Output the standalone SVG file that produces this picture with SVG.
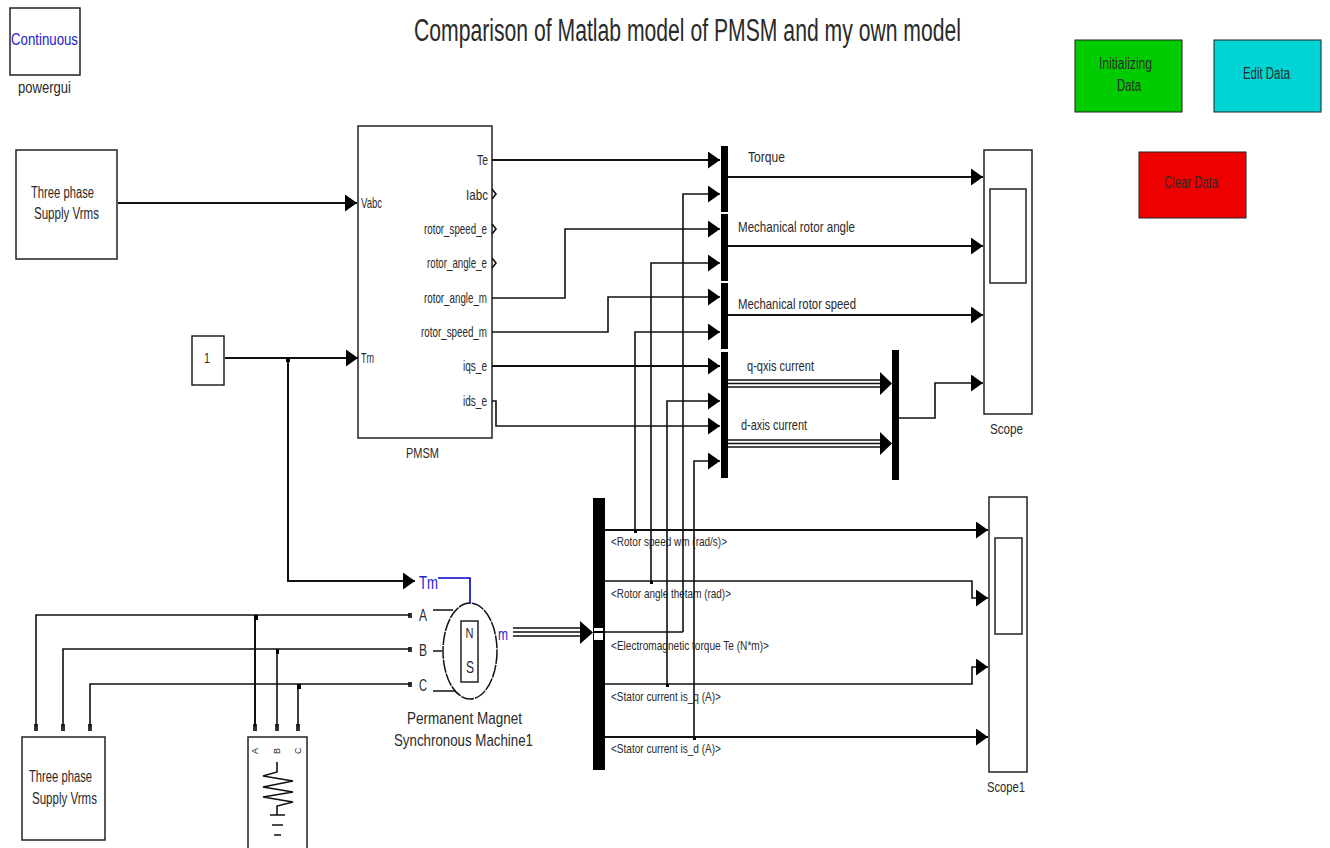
<svg xmlns="http://www.w3.org/2000/svg" width="1330" height="848" viewBox="0 0 1330 848">
<style>
text{font-family:"Liberation Sans",Arial,sans-serif;fill:#2a2a2a;font-size:16px}
.m{font-size:15px}
.s{font-size:13.500px}
.b{fill:#fff;stroke:#222;stroke-width:1.5}
.bar{fill:#000}
.w{fill:none;stroke:#111;stroke-width:2}
.t{fill:none;stroke:#111;stroke-width:1.6}
.a{marker-end:url(#ah)}
.p{fill:#333}
.blue{fill:#2222cc}
</style>
<defs>
<marker id="ah" markerUnits="userSpaceOnUse" markerWidth="14" markerHeight="18" refX="12" refY="8.500" orient="auto"><path d="M0 0L12 8.500L0 17Z" fill="#000"/></marker>
</defs>
<text id="title" x="414" y="41" textLength="547" lengthAdjust="spacingAndGlyphs" style="font-size:31px">Comparison of Matlab model of PMSM and my own model</text>
<g id="powergui"><rect class="b" x="10" y="8" width="70" height="67"/><text x="11" y="45" textLength="67" lengthAdjust="spacingAndGlyphs" class="blue">Continuous</text><text x="18" y="93" textLength="53" lengthAdjust="spacingAndGlyphs">powergui</text></g>
<g id="btn-init"><rect x="1075" y="40" width="107" height="72" fill="#00cc00" stroke="#222"/><text x="1099" y="69" textLength="53" lengthAdjust="spacingAndGlyphs">Initializing</text><text x="1117" y="91" textLength="24" lengthAdjust="spacingAndGlyphs">Data</text></g>
<g id="btn-edit"><rect x="1214" y="40" width="107" height="72" fill="#00d4d4" stroke="#222"/><text x="1243" y="79" textLength="47" lengthAdjust="spacingAndGlyphs">Edit Data</text></g>
<g id="btn-clear"><rect x="1139" y="152" width="107" height="66" fill="#ee0000" stroke="#222"/><text x="1164" y="188" textLength="54" lengthAdjust="spacingAndGlyphs">Clear Data</text></g>
<g id="supply1"><rect class="b" x="16" y="150" width="101" height="109"/><text x="31" y="198" textLength="63" lengthAdjust="spacingAndGlyphs">Three phase</text><text x="34" y="219" textLength="65" lengthAdjust="spacingAndGlyphs">Supply Vrms</text></g>
<g id="constant"><rect class="b" x="192" y="336" width="32" height="49"/><text x="204" y="363" class="m" textLength="6" lengthAdjust="spacingAndGlyphs">1</text></g>
<g id="pmsm"><rect class="b" x="358" y="126" width="134" height="312"/>
<text class="m" x="361" y="208" textLength="21" lengthAdjust="spacingAndGlyphs">Vabc</text>
<text class="m" x="361" y="363" textLength="13" lengthAdjust="spacingAndGlyphs">Tm</text>
<text class="m" x="477" y="165" textLength="11" lengthAdjust="spacingAndGlyphs">Te</text>
<text class="m" x="466" y="200" textLength="22" lengthAdjust="spacingAndGlyphs">Iabc</text>
<text class="m" x="424" y="234" textLength="63" lengthAdjust="spacingAndGlyphs">rotor_speed_e</text>
<text class="m" x="427" y="268" textLength="60" lengthAdjust="spacingAndGlyphs">rotor_angle_e</text>
<text class="m" x="424" y="303" textLength="63" lengthAdjust="spacingAndGlyphs">rotor_angle_m</text>
<text class="m" x="421" y="337" textLength="66" lengthAdjust="spacingAndGlyphs">rotor_speed_m</text>
<text class="m" x="463" y="371" textLength="24" lengthAdjust="spacingAndGlyphs">iqs_e</text>
<text class="m" x="463" y="406" textLength="24" lengthAdjust="spacingAndGlyphs">ids_e</text>
<path class="t" d="M492 189l4 5l-4 5M492 224l4 5l-4 5M492 258l4 5l-4 5" stroke-width="1.2"/>
<text x="406" y="458" textLength="33" lengthAdjust="spacingAndGlyphs" class="m">PMSM</text></g>
<g id="mux1"><rect class="bar" x="721" y="146" width="7" height="66"/></g>
<g id="mux2"><rect class="bar" x="721" y="214" width="7" height="67"/></g>
<g id="mux3"><rect class="bar" x="721" y="283" width="7" height="66"/></g>
<g id="mux4"><rect class="bar" x="721" y="352" width="7" height="126"/></g>
<g id="mux5"><rect class="bar" x="892" y="350" width="7" height="130"/></g>
<g id="demux"><rect class="bar" x="593" y="498" width="12" height="272"/><rect x="594" y="628" width="9" height="3" fill="#fff"/><rect x="594" y="633" width="9" height="7" fill="#fff"/></g>
<g id="scope"><rect class="b" x="984" y="150" width="48" height="264"/><rect class="b" x="990" y="189" width="36" height="94"/><text x="990" y="434" textLength="33" lengthAdjust="spacingAndGlyphs" class="m">Scope</text></g>
<g id="scope1"><rect class="b" x="989" y="497" width="38" height="275"/><rect class="b" x="995" y="538" width="27" height="96"/><text x="987" y="792" textLength="38" lengthAdjust="spacingAndGlyphs" class="m">Scope1</text></g>
<g id="machine">
<ellipse cx="470" cy="651" rx="27" ry="48" fill="#fff" stroke="#111" stroke-width="1.500" stroke-dasharray="13 1"/>
<rect class="b" x="461" y="621" width="17" height="61" style="fill:none"/>
<text x="469.500" y="638" text-anchor="middle" textLength="8" lengthAdjust="spacingAndGlyphs" style="font-size:15px">N</text>
<text x="470" y="673" text-anchor="middle" textLength="8" lengthAdjust="spacingAndGlyphs" style="font-size:17px">S</text>
<path class="t" d="M433 610H453M433 651H442M433 691H456"/>
<path d="M438 578H470V603" fill="none" stroke="#0000cc" stroke-width="1.600"/>
<text x="419" y="589" class="blue" textLength="19" lengthAdjust="spacingAndGlyphs" style="font-size:18px">Tm</text>
<text x="498" y="640" class="blue" textLength="10" lengthAdjust="spacingAndGlyphs" style="font-size:16px">m</text>
<text x="419" y="621" textLength="8" lengthAdjust="spacingAndGlyphs">A</text><text x="419" y="656" textLength="8" lengthAdjust="spacingAndGlyphs">B</text><text x="419" y="691" textLength="8" lengthAdjust="spacingAndGlyphs">C</text>
<rect class="p" x="408" y="613" width="4" height="5"/><rect class="p" x="408" y="647" width="4" height="5"/><rect class="p" x="408" y="682" width="4" height="5"/>
<text x="407" y="724" textLength="115" lengthAdjust="spacingAndGlyphs" style="font-size:17px">Permanent Magnet</text><text x="394" y="746" textLength="139" lengthAdjust="spacingAndGlyphs" style="font-size:17px">Synchronous Machine1</text></g>
<g id="supply2"><rect class="b" x="22" y="737" width="83" height="103"/><text x="29" y="782" textLength="63" lengthAdjust="spacingAndGlyphs">Three phase</text><text x="32" y="804" textLength="65" lengthAdjust="spacingAndGlyphs">Supply Vrms</text>
<rect class="p" x="34" y="724" width="4" height="7"/><rect class="p" x="61" y="724" width="4" height="7"/><rect class="p" x="88" y="724" width="4" height="7"/></g>
<g id="load"><rect class="b" x="248" y="737" width="59" height="120"/>
<text transform="translate(258 754) rotate(-90)" style="font-size:9px">A</text><text transform="translate(280 754) rotate(-90)" style="font-size:9px">B</text><text transform="translate(301 754) rotate(-90)" style="font-size:9px">C</text>
<path class="t" d="M277 762V772L263 776L293 781L263 787L293 792L263 797L293 802L277 806V815M270 815H285M272 825H283M274 835H281"/>
<rect class="p" x="253" y="724" width="4" height="7"/><rect class="p" x="275" y="724" width="4" height="7"/><rect class="p" x="296" y="724" width="4" height="7"/></g>
<g id="connectors">
<path class="w a" d="M118 203H357"/>
<path class="w a" d="M225 358H358"/>
<path class="w a" d="M288 358V581H415"/>
<path class="w a" d="M492 160H720"/>
<path class="t a" d="M492 298H565V229H720"/>
<path class="t a" d="M492 332H608V297H720"/>
<path class="w a" d="M492 366H720"/>
<path class="t a" d="M492 401H496V426H720"/>
<path class="t a" d="M683 632V194H720"/>
<path class="t a" d="M651 581V263H720"/>
<path class="t a" d="M635 530V332H720"/>
<path class="t a" d="M667 684V401H720"/>
<path class="t a" d="M694 737V461H720"/>
<path class="w a" d="M728 177H983"/>
<path class="w a" d="M728 246H983"/>
<path class="w a" d="M728 315H983"/>
<path class="t" d="M728 380H880M728 383.500H880M728 387H880M728 440H880M728 443.500H880M728 447H880"/>
<path class="bar" d="M880 372L892 383.500L880 395ZM880 432L892 443.500L880 455Z"/>
<path class="t a" d="M899 418H935V383H983"/>
<path class="w a" d="M605 530H988"/>
<path class="t a" d="M605 581H972V598H988"/>
<path class="t" d="M605 632H683"/>
<path class="t a" d="M605 684H972V667H988"/>
<path class="w a" d="M605 737H988"/>
<path class="t" d="M513 628H580M513 632H580M513 636H580"/>
<path class="bar" d="M580 621L593 632.500L580 644Z"/>
<path class="t" d="M36 727V615H410M63 727V649H410M90 727V684H410"/>
<path class="w" d="M255 727V615"/>
<path class="t" d="M277 727V649M298 727V684"/>
<rect class="bar" x="286" y="358" width="4" height="4"/><rect class="bar" x="254" y="615" width="4" height="5"/><rect class="bar" x="276" y="649" width="3" height="5"/><rect class="bar" x="297" y="684" width="4" height="5"/>
<g class="bar"><rect x="634" y="530" width="3" height="3"/><rect x="650" y="581" width="3" height="3"/><rect x="666" y="684" width="3" height="3"/><rect x="693" y="737" width="3" height="3"/></g>
</g>
<g id="labels">
<text class="m" x="748" y="162" textLength="37" lengthAdjust="spacingAndGlyphs">Torque</text>
<text class="m" x="738" y="232" textLength="117" lengthAdjust="spacingAndGlyphs">Mechanical rotor angle</text>
<text class="m" x="738" y="309" textLength="118" lengthAdjust="spacingAndGlyphs">Mechanical rotor speed</text>
<text class="m" x="747" y="371" textLength="67" lengthAdjust="spacingAndGlyphs">q-qxis current</text>
<text class="m" x="741" y="430" textLength="66" lengthAdjust="spacingAndGlyphs">d-axis current</text>
<text class="s" x="611" y="546" textLength="116" lengthAdjust="spacingAndGlyphs">&lt;Rotor speed wm (rad/s)&gt;</text>
<text class="s" x="611" y="598" textLength="120" lengthAdjust="spacingAndGlyphs">&lt;Rotor angle thetam (rad)&gt;</text>
<text class="s" x="611" y="650" textLength="158" lengthAdjust="spacingAndGlyphs">&lt;Electromagnetic torque Te (N*m)&gt;</text>
<text class="s" x="611" y="701" textLength="110" lengthAdjust="spacingAndGlyphs">&lt;Stator current is_q (A)&gt;</text>
<text class="s" x="611" y="753" textLength="110" lengthAdjust="spacingAndGlyphs">&lt;Stator current is_d (A)&gt;</text>
</g>
</svg>
